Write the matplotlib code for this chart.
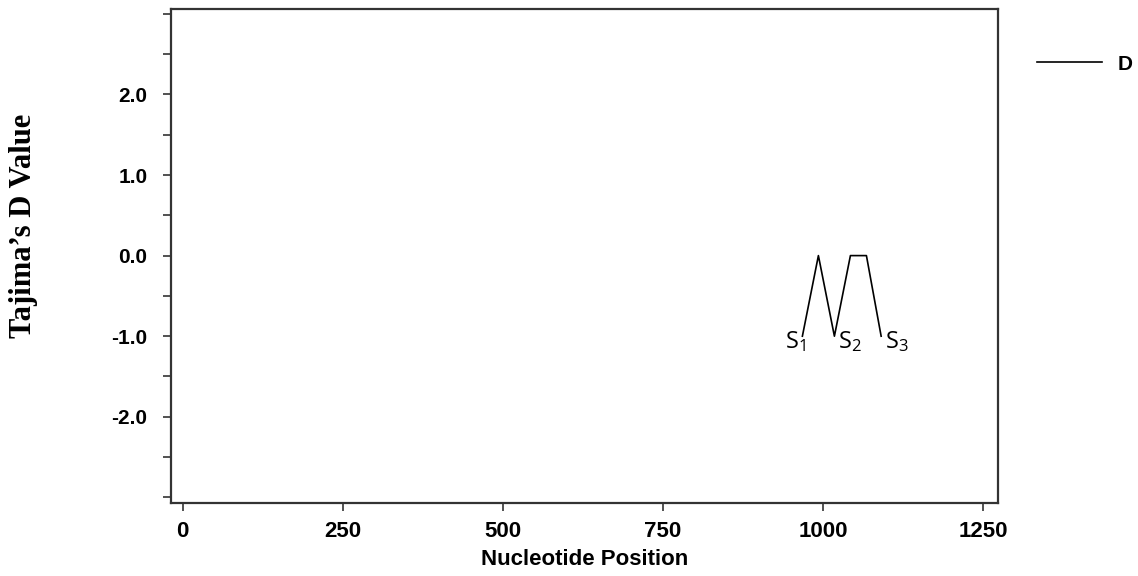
import matplotlib
matplotlib.use("Agg")
import matplotlib.pyplot as plt
from matplotlib.ticker import MultipleLocator

# Données (fenêtre glissante)
positions = [968, 993, 1018, 1043, 1068, 1091]
tajima_d = [-1.0, 0.0, -1.0, 0.0, 0.0, -1.0]

x_ticks = [0, 250, 500, 750, 1000, 1250]
y_ticks = [-2.0, -1.0, 0.0, 1.0, 2.0]

# étiquettes des sites
sites = ["$\\mathregular{S_1}$", "$\\mathregular{S_2}$", "$\\mathregular{S_3}$"]
site_x = [941, 1023, 1097]
site_y = [-1.15, -1.15, -1.15]

TICK_FONT = ["Liberation Sans", "DejaVu Sans"]

fig = plt.figure(figsize=(11.38, 5.76), dpi=100)
ax = fig.add_axes([0.1503, 0.1267, 0.7264, 0.8577])

ax.plot(positions, tajima_d, color="black", lw=1.2, label="D")

ax.set_xlim(-18, 1273)
ax.set_ylim(-3.07, 3.06)
ax.set_xticks(x_ticks)
ax.set_yticks(y_ticks)
ax.yaxis.set_minor_locator(MultipleLocator(0.5))
ax.set_xticklabels([str(t) for t in x_ticks])
ax.set_yticklabels([f"{t:.1f}" for t in y_ticks])

for lab in ax.get_xticklabels():
    lab.set_family(TICK_FONT)
    lab.set_fontweight("bold")
    lab.set_fontsize(16)
for lab in ax.get_yticklabels():
    lab.set_family(TICK_FONT)
    lab.set_fontweight("bold")
    lab.set_fontsize(15)

ax.tick_params(axis="both", which="both", direction="out", length=6, width=1.2, color="#333333")
ax.tick_params(axis="y", pad=11)
ax.tick_params(axis="x", pad=7)
for s in ax.spines.values():
    s.set_linewidth(1.6)
    s.set_color("#333333")

for txt, xs, ys in zip(sites, site_x, site_y):
    ax.text(xs, ys, txt, fontsize=17, family="Open Sans", ha="left", va="baseline")

ax.set_xlabel("Nucleotide Position", family=TICK_FONT, fontweight="bold", fontsize=16, labelpad=5)
fig.text(0.021, 0.607, "Tajima\u2019s D Value", rotation=90, family="Liberation Serif",
         fontweight="bold", fontsize=22, ha="center", va="center")

leg = ax.legend(loc="center left", bbox_to_anchor=(1037 / 1138, 1 - 64 / 576),
                bbox_transform=fig.transFigure, frameon=False, borderpad=0,
                borderaxespad=0, handlelength=3.1, handletextpad=0.75,
                prop={"family": TICK_FONT, "weight": "bold", "size": 15})

fig.savefig("out.png", dpi=100, facecolor="white")
